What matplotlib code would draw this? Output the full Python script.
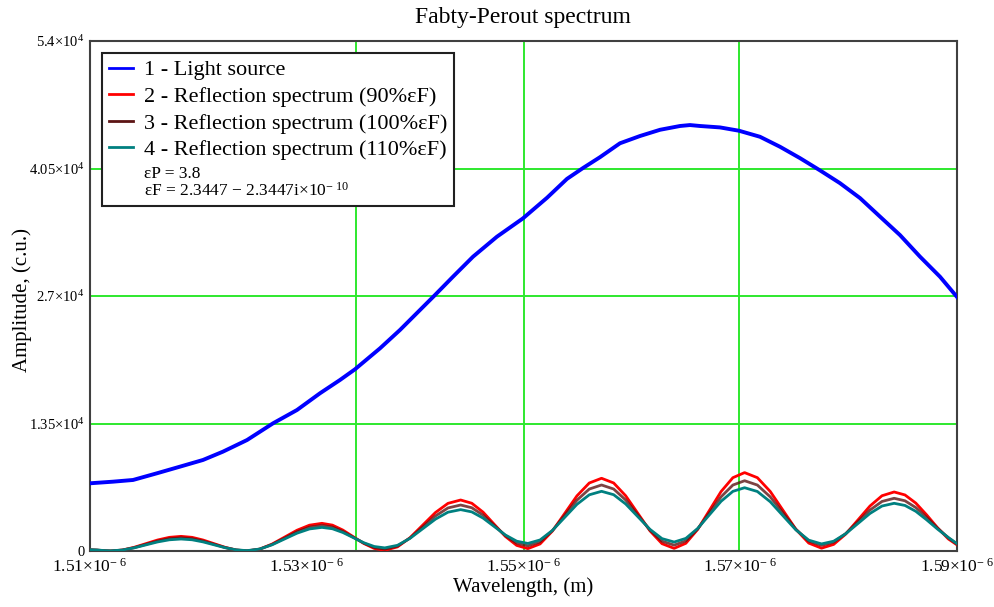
import matplotlib
matplotlib.use("Agg")
import matplotlib.pyplot as plt
from matplotlib.lines import Line2D
import numpy as np

plt.rcParams['font.family'] = ['Liberation Serif', 'DejaVu Serif']
plt.rcParams['mathtext.fontset'] = 'custom'
plt.rcParams['mathtext.rm'] = 'Liberation Serif'
plt.rcParams['mathtext.it'] = 'Liberation Serif:italic'

# light source, wavelength in um
wl_src = [1.51000, 1.51212, 1.51397, 1.51618, 1.51830, 1.52043, 1.52227, 1.52449,
          1.52689, 1.52910, 1.53122, 1.53307, 1.53445, 1.53676, 1.53860, 1.54045,
          1.54183, 1.54349, 1.54534, 1.54755, 1.54995, 1.55217, 1.55401, 1.55549,
          1.55706, 1.55890, 1.56075, 1.56260, 1.56444, 1.56536, 1.56629, 1.56813,
          1.56988, 1.57182, 1.57367, 1.57551, 1.57736, 1.57920, 1.58105, 1.58290,
          1.58474, 1.58659, 1.58843, 1.59000]
src = [7170, 7340, 7520, 8230, 8930, 9640, 10520, 11750,
       13520, 14930, 16700, 18110, 19240, 21460, 23400, 25520,
       27100, 29040, 31160, 33280, 35220, 37400, 39400, 40550,
       41700, 43170, 43940, 44600, 45000, 45100, 45000, 44850,
       44500, 43860, 42800, 41600, 40300, 38950, 37370, 35400,
       33450, 31160, 29040, 26900]

# reflection spectra (90 %, 100 %, 110 % of eF)
wl_ref = [1.51000, 1.51063, 1.51127, 1.51190,
          1.51298, 1.51407, 1.51515, 1.51623, 1.51732, 1.51840,
          1.51942, 1.52043, 1.52145, 1.52247, 1.52348, 1.52450,
          1.52565, 1.52680, 1.52795, 1.52910, 1.53025, 1.53140,
          1.53237, 1.53333, 1.53430, 1.53527, 1.53623, 1.53720,
          1.53837, 1.53953, 1.54070, 1.54187, 1.54303, 1.54420,
          1.54523, 1.54627, 1.54730, 1.54833, 1.54937, 1.55040,
          1.55153, 1.55267, 1.55380, 1.55493, 1.55607, 1.55720,
          1.55832, 1.55943, 1.56055, 1.56167, 1.56278, 1.56390,
          1.56498, 1.56607, 1.56715, 1.56823, 1.56932, 1.57040,
          1.57158, 1.57277, 1.57395, 1.57513, 1.57632, 1.57750,
          1.57862, 1.57973, 1.58085, 1.58197, 1.58308, 1.58420,
          1.58520, 1.58620, 1.58720, 1.58820, 1.58920, 1.59000]
ref90 = [120, 90, 30, 0,
         104, 388, 775, 1163, 1446, 1550,
         1446, 1163, 775, 388, 104, 0,
         196, 733, 1465, 2198, 2734, 2930,
         2739, 2218, 1505, 793, 271, 80,
         436, 1410, 2740, 4070, 5044, 5400,
         5055, 4113, 2825, 1538, 595, 250,
         749, 2113, 3975, 5838, 7201, 7700,
         7203, 5845, 3990, 2135, 777, 280,
         817, 2285, 4290, 6295, 7763, 8300,
         7764, 6300, 4300, 2300, 836, 300,
         699, 1788, 3275, 4763, 5851, 6250,
         5935, 5072, 3822, 2466, 1276, 650]
ref100 = [130, 100, 40, 0,
          94, 350, 700, 1050, 1306, 1400,
          1308, 1055, 710, 365, 112, 20,
          200, 690, 1360, 2030, 2520, 2700,
          2533, 2075, 1450, 825, 368, 200,
          513, 1368, 2535, 3703, 4557, 4870,
          4581, 3790, 2710, 1630, 839, 550,
          981, 2160, 3770, 5380, 6559, 6990,
          6563, 5398, 3805, 2213, 1047, 620,
          1077, 2325, 4030, 5735, 6983, 7440,
          6982, 5730, 4020, 2310, 1058, 600,
          934, 1845, 3090, 4335, 5246, 5580,
          5317, 4598, 3556, 2425, 1400, 720]
ref110 = [140, 110, 50, 20,
          104, 333, 645, 958, 1186, 1270,
          1188, 963, 655, 348, 122, 40,
          205, 655, 1270, 1885, 2335, 2500,
          2355, 1958, 1415, 873, 475, 330,
          601, 1343, 2355, 3368, 4109, 4380,
          4140, 3485, 2590, 1695, 1040, 800,
          1170, 2180, 3560, 4940, 5950, 6320,
          5960, 4978, 3635, 2293, 1310, 950,
          1335, 2388, 3825, 5263, 6315, 6700,
          6301, 5213, 3725, 2238, 1149, 750,
          1038, 1825, 2900, 3975, 4762, 5050,
          4823, 4201, 3300, 2322, 1430, 780]

x_ticks = [1.51, 1.53, 1.55, 1.57, 1.59]
y_ticks = [0, 13500, 27000, 40500, 54000]
y_labels = ['0', r'$1.35{\times}10^{4}$', r'$2.7{\times}10^{4}$', r'$4.05{\times}10^{4}$', r'$5.4{\times}10^{4}$']
x_grid = [1.5345, 1.55, 1.5699]

labels = ['1 - Light source',
          '2 - Reflection spectrum (90%\u03b5F)',
          '3 - Reflection spectrum (100%\u03b5F)',
          '4 - Reflection spectrum (110%\u03b5F)']
params = '\u03b5P = 3.8\n\u03b5F = 2.3447 \u2212 2.3447i\u00d710$^{-\\ 10}$'
colors = ['#0000ff', '#ff0000', '#5c1414', '#008080']

fig = plt.figure(figsize=(9.94, 6.07), dpi=100)
ax = fig.add_axes([90/994, 1-551/607, 867/994, 510/607])

um = 1e-6
ax.plot(np.array(wl_src)*um, src, color=colors[0], lw=2.8, zorder=3)
ax.plot(np.array(wl_ref)*um, ref90, color=colors[1], lw=2.0, zorder=3)
ax.plot(np.array(wl_ref)*um, ref100, color=colors[2], lw=2.0, zorder=3, alpha=0.8)
ax.plot(np.array(wl_ref)*um, ref110, color=colors[3], lw=2.0, zorder=3)

ax.set_xlim(1.51*um, 1.59*um)
ax.set_ylim(0, 54000)

# grid (vertical lines are not at the tick positions in the original)
for g in x_grid:
    ax.axvline(g*um, color='#2ee82e', lw=1.4, zorder=1)
for g in y_ticks[1:-1]:
    ax.axhline(g, color='#2ee82e', lw=1.4, zorder=1)

ax.set_xticks([t*um for t in x_ticks])
ax.set_xticklabels([r'$%.2f{\times}10^{-\ 6}$' % t for t in x_ticks], fontsize=12.5)
ax.set_yticks(y_ticks)
ax.set_yticklabels(y_labels, fontsize=10.5)
ax.tick_params(axis='x', length=0, pad=5)
ax.tick_params(axis='y', length=0, pad=4)
ax.get_yticklabels()[0].set_va('center_baseline')
for s in ax.spines.values():
    s.set_color('#404040')
    s.set_linewidth(1.5)

handles = [Line2D([], [], color=c, lw=2) for c in colors]
handles.append(Line2D([], [], ls='none'))
leg = ax.legend(handles, labels + [params], loc='upper left', bbox_to_anchor=(0.0138, 0.976),
                borderaxespad=0, fontsize=16, handlelength=1.1, handletextpad=0.5,
                labelspacing=0.27, borderpad=0.3, fancybox=False, framealpha=1)
leg.get_frame().set_edgecolor('#202020')
leg.get_frame().set_linewidth(1.5)
leg.get_texts()[4].set_fontsize(12.5)
leg.get_texts()[4].set_linespacing(0.95)

fig.text(0.526, 1-17/607, 'Fabty-Perout spectrum', ha='center', va='center', fontsize=17)
fig.text(523/994, 1-587/607, 'Wavelength, (m)', ha='center', va='center', fontsize=15)
fig.text(22/994, 1-300/607, 'Amplitude, (c.u.)', ha='center', va='center', fontsize=15, rotation=90)

fig.savefig('out.png', dpi=100)
